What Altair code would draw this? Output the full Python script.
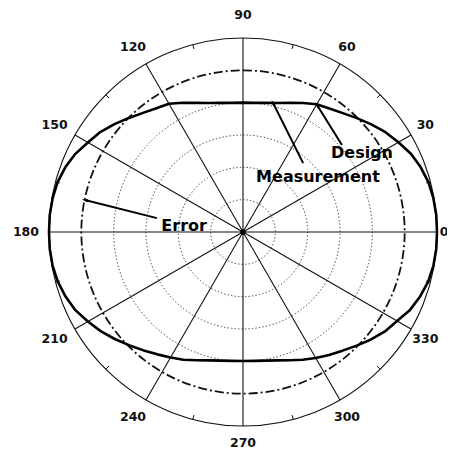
import math
import altair as alt
import pandas as pd

# ---- data ----
grid_r = [1, 2, 3, 4]            # dotted rings
design_r = [5]                   # dash-dot "Design" ring
outer_r = [6]                    # outer ring
spoke_deg = [0, 30, 60, 90, 120, 150, 180, 210, 240, 270, 300, 330]
tick_deg = [15, 45, 75, 105, 135, 165, 195, 225, 255, 285, 315, 345]
label_txt = ["0", "30", "60", "90", "120", "150", "180", "210", "240", "270", "300", "330"]

meas_deg = list(range(0, 365, 5))
meas_r = [
    6.00, 6.00, 5.98, 5.94, 5.85, 5.73, 5.55, 5.38, 5.18, 4.98, 4.80, 4.66, 4.56, 4.40, 4.25, 4.13, 4.06, 4.01,
    4.00,
    4.01, 4.06, 4.13, 4.25, 4.41, 4.58, 4.67, 4.81, 4.99, 5.19, 5.39, 5.54, 5.72, 5.85, 5.94, 5.98, 6.00,
    6.00,
    6.00, 5.98, 5.93, 5.84, 5.72, 5.54, 5.36, 5.16, 4.96, 4.78, 4.62, 4.48, 4.36, 4.22, 4.11, 4.04, 4.00,
    3.99,
    4.00, 4.04, 4.11, 4.22, 4.36, 4.50, 4.64, 4.79, 4.97, 5.17, 5.36, 5.50, 5.70, 5.83, 5.93, 5.98, 6.00,
    6.00,
]

ann_text = ["Design", "Measurement", "Error"]
ann_x = [3.68, 2.32, -1.82]
ann_y = [2.44, 1.70, 0.20]

arrow_x1 = [3.06, 1.86, -2.66]
arrow_y1 = [2.69, 2.13, 0.43]
arrow_x2 = [2.29, 0.93, -4.89]
arrow_y2 = [3.93, 3.99, 0.99]

LABEL_R = 6.62
LABEL_R_V = 6.61
TICK_IN = 5.86
FONT = "DejaVu Sans"

xs = alt.Scale(domain=[-6, 6], nice=False, zero=False)
ys = alt.Scale(domain=[-6, 6], nice=False, zero=False)
rs = alt.Scale(type="linear", domain=[0, 6], zero=True)

TWO_PI = 2 * math.pi


def ring_layer(values, **mark_kw):
    return alt.Chart(pd.DataFrame({"r": values})).mark_arc(
        filled=False, theta=0, theta2=TWO_PI, **mark_kw
    ).encode(radius=alt.Radius("r:Q", scale=rs, stack=None))


rings = ring_layer(grid_r, stroke="#222", strokeWidth=0.9, strokeDash=[1.3, 2.2])
outer = ring_layer(outer_r, stroke="#111", strokeWidth=1.1)
design = ring_layer(design_r, stroke="#111", strokeWidth=1.8, strokeDash=[9, 3, 2, 3])

spokes = alt.Chart(pd.DataFrame({"deg": spoke_deg})).transform_calculate(
    x0="0", y0="0",
    x2="6*cos(datum.deg*PI/180)", y2="6*sin(datum.deg*PI/180)"
).mark_rule(color="#111", strokeWidth=1.1).encode(
    x=alt.X("x0:Q", scale=xs, axis=None),
    y=alt.Y("y0:Q", scale=ys, axis=None),
    x2="x2:Q", y2="y2:Q",
)

ticks = alt.Chart(pd.DataFrame({"deg": tick_deg})).transform_calculate(
    xa=f"{TICK_IN}*cos(datum.deg*PI/180)", ya=f"{TICK_IN}*sin(datum.deg*PI/180)",
    xb="6*cos(datum.deg*PI/180)", yb="6*sin(datum.deg*PI/180)"
).mark_rule(color="#111", strokeWidth=1).encode(
    x=alt.X("xa:Q", scale=xs, axis=None),
    y=alt.Y("ya:Q", scale=ys, axis=None),
    x2="xb:Q", y2="yb:Q",
)

label_df = pd.DataFrame({"deg": spoke_deg, "txt": label_txt})
label_enc = dict(
    x=alt.X("x:Q", scale=xs, axis=None),
    y=alt.Y("y:Q", scale=ys, axis=None),
    text="txt:N",
)
txt_kw = dict(font=FONT, fontSize=12.5, fontWeight="bold", color="#111",
              align="center", baseline="middle")


def label_layer(radius, cond, **kw):
    return alt.Chart(label_df).transform_filter(cond).transform_calculate(
        x=f"{radius}*cos(datum.deg*PI/180)", y=f"{radius}*sin(datum.deg*PI/180)"
    ).mark_text(**txt_kw, **kw).encode(**label_enc)


labels = label_layer(LABEL_R, "datum.deg != 0 && datum.deg != 90 && datum.deg != 270", dx=-3)
label0 = label_layer(LABEL_R, "datum.deg == 0", dx=-13)
labelv = label_layer(LABEL_R_V, "datum.deg == 90 || datum.deg == 270", dy=-3)

meas = alt.Chart(pd.DataFrame({"deg": meas_deg, "r": meas_r})).transform_calculate(
    x="datum.r*cos(datum.deg*PI/180)", y="datum.r*sin(datum.deg*PI/180)"
).mark_line(color="#000", strokeWidth=2.6, strokeJoin="round").encode(
    x=alt.X("x:Q", scale=xs, axis=None),
    y=alt.Y("y:Q", scale=ys, axis=None),
    order="deg:Q",
)

center = alt.Chart(pd.DataFrame({"x": [0.0], "y": [0.0]})).mark_point(
    filled=True, color="#000", size=32, opacity=1
).encode(x=alt.X("x:Q", scale=xs, axis=None), y=alt.Y("y:Q", scale=ys, axis=None))

arr_df = pd.DataFrame({"x1": arrow_x1, "y1": arrow_y1, "x2": arrow_x2, "y2": arrow_y2})
arrows = alt.Chart(arr_df).mark_rule(color="#000", strokeWidth=2).encode(
    x=alt.X("x1:Q", scale=xs, axis=None),
    y=alt.Y("y1:Q", scale=ys, axis=None),
    x2="x2:Q", y2="y2:Q",
)
heads = alt.Chart(arr_df).transform_calculate(
    ang="(atan2(datum.x2-datum.x1, datum.y2-datum.y1)*180/PI + 360) % 360"
).mark_point(filled=True, color="#000", opacity=1, size=45,
             shape="M0,-1L0.45,0.9L-0.45,0.9Z").encode(
    x=alt.X("x2:Q", scale=xs, axis=None),
    y=alt.Y("y2:Q", scale=ys, axis=None),
    angle=alt.Angle("ang:Q", scale=None),
)

ann = alt.Chart(pd.DataFrame({"t": ann_text, "x": ann_x, "y": ann_y})).mark_text(
    font=FONT, fontSize=16, fontWeight="bold", color="#000", align="center", baseline="middle"
).encode(
    x=alt.X("x:Q", scale=xs, axis=None),
    y=alt.Y("y:Q", scale=ys, axis=None),
    text="t:N",
)

chart = alt.layer(
    rings, spokes, ticks, outer, design, meas, center, arrows, heads, ann, labels, label0, labelv
).properties(
    width=388, height=388, autosize="none",
    padding={"left": 41, "top": 30, "right": 10, "bottom": 26},
    background="white",
).configure_view(stroke=None)

chart.save("out.html", embed_options={"renderer": "svg", "actions": False})
